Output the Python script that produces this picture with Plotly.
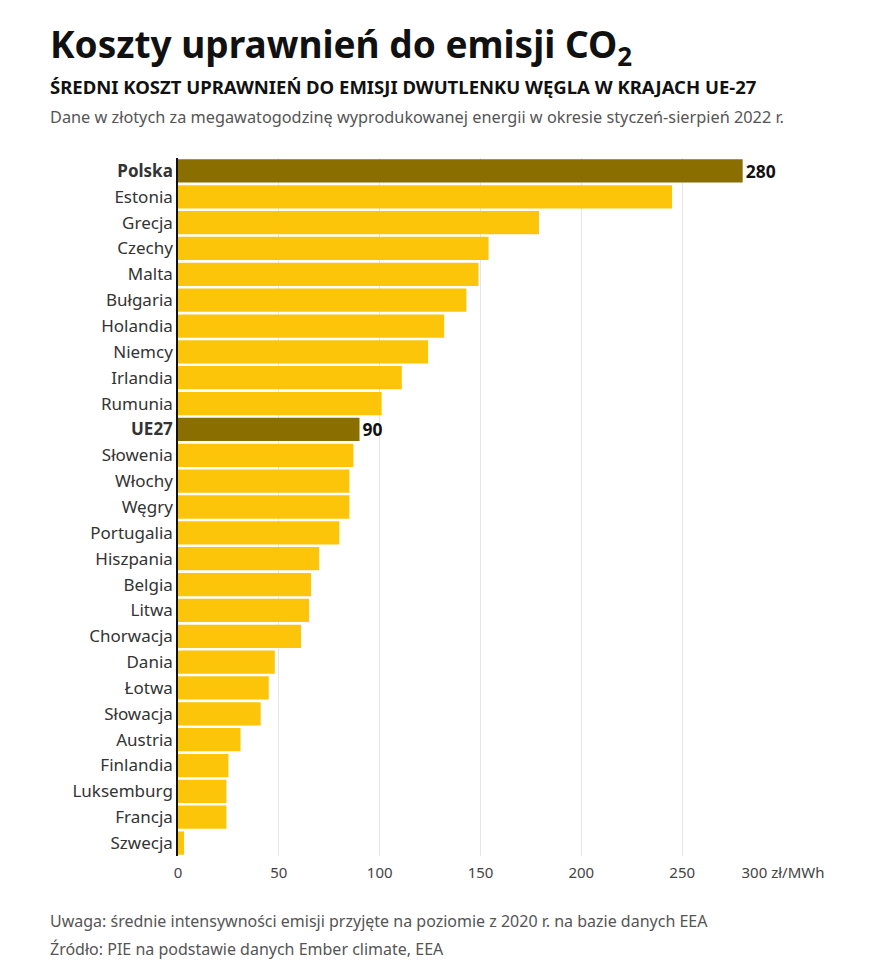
import plotly.graph_objects as go

countries = ["Polska", "Estonia", "Grecja", "Czechy", "Malta", "Bułgaria", "Holandia", "Niemcy",
             "Irlandia", "Rumunia", "UE27", "Słowenia", "Włochy", "Węgry", "Portugalia", "Hiszpania",
             "Belgia", "Litwa", "Chorwacja", "Dania", "Łotwa", "Słowacja", "Austria", "Finlandia",
             "Luksemburg", "Francja", "Szwecja"]
values = [280, 245, 179, 154, 149, 143, 132, 124, 111, 101, 90, 87, 85, 85, 80, 70,
          66, 65, 61, 48, 45, 41, 31, 25, 24, 24, 3]
highlight = ["Polska", "UE27"]
x_ticks = [0, 50, 100, 150, 200, 250, 300]
x_labels = ["0", "50", "100", "150", "200", "250", "300 zł/MWh"]

GOLD = "#fcc50a"
DARK = "#8a6e00"
FONT = "Noto Sans"

colors = [DARK if c in highlight else GOLD for c in countries]
ticktext = [f"<b>{c}</b>" if c in highlight else c for c in countries]
labels = [f"<b>{v}</b>" if c in highlight else "" for c, v in zip(countries, values)]

fig = go.Figure(go.Bar(
    y=countries, x=values, orientation="h",
    marker=dict(color=colors, line=dict(width=0)),
    text=labels, textposition="outside", cliponaxis=False,
    textfont=dict(size=18, color="#111", family=FONT),
    width=0.9,
))

fig.update_layout(
    width=873, height=960,
    margin=dict(l=170, r=98, t=150, b=112, autoexpand=False),
    plot_bgcolor="white", paper_bgcolor="white",
    font=dict(family=FONT, color="#333", size=16),
    showlegend=False,
    bargap=0.1,
    xaxis=dict(range=[0, 300], tickvals=x_ticks, ticktext=x_labels,
               showgrid=True, gridcolor="#e6e6e6", zeroline=False,
               tickfont=dict(size=15, color="#444"), ticks="", ticklabelstandoff=6),
    yaxis=dict(categoryorder="array", categoryarray=countries[::-1],
               tickvals=countries, ticktext=ticktext,
               showline=True, linecolor="#111", linewidth=1.5,
               ticks="", tickfont=dict(size=17, color="#333")),
)

anns = [
    (40, 8, "<b>Koszty uprawnień do emisji CO<sub>2</sub></b>", 37, "#111"),
    (40, 64, "<b>ŚREDNI KOSZT UPRAWNIEŃ DO EMISJI DWUTLENKU WĘGLA W KRAJACH UE-27</b>", 18.5, "#111"),
    (40, 96, "Dane w złotych za megawatogodzinę wyprodukowanej energii w okresie styczeń-sierpień 2022 r.", 16.3, "#555"),
    (40, 900, "Uwaga: średnie intensywności emisji przyjęte na poziomie z 2020 r. na bazie danych EEA", 16, "#555"),
    (40, 928, "Źródło: PIE na podstawie danych Ember climate, EEA", 16, "#555"),
]
for x, y, t, s, c in anns:
    fig.add_annotation(xref="paper", yref="paper", x=(x - 170) / (873 - 170 - 98),
                       y=1 - (y - 150) / (960 - 150 - 112), xanchor="left", yanchor="top",
                       text=t, showarrow=False, font=dict(size=s, color=c, family=FONT))

fig.write_html("out.html")
